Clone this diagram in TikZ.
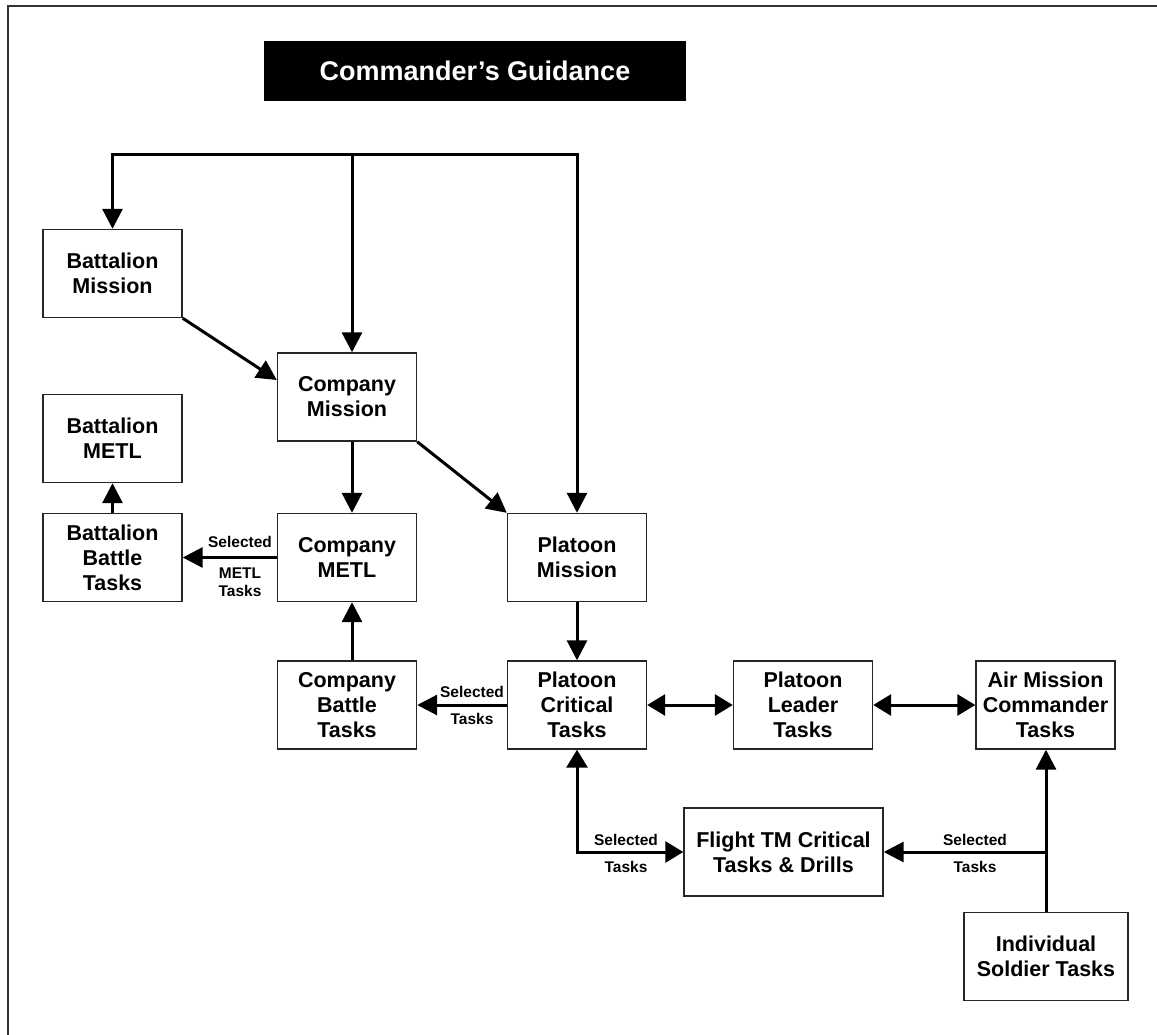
\documentclass[tikz,border=0pt]{standalone}
\usepackage{fontspec}
\setmainfont{Liberation Sans}
\usetikzlibrary{arrows.meta}
\begin{document}
\begin{tikzpicture}[x=1pt,y=-1pt,
  box/.style={draw=black!85,line width=1.4pt,fill=white,align=center,
    minimum width=139pt,minimum height=88pt,inner sep=1pt,
    font=\bfseries\fontsize{21.5}{25}\selectfont},
  link/.style={line width=3pt,draw=black},
  arr/.style={link,-{Triangle[length=20pt,width=20pt]}},
  darr/.style={link,{Triangle[length=18pt,width=21pt]}-{Triangle[length=18pt,width=21pt]}},
  lbl/.style={font=\bfseries\fontsize{15.5}{17}\selectfont,inner sep=0pt}]
\useasboundingbox (0,0) rectangle (1157,1034);
% outer frame
\draw[black!80,line width=2.4pt] (8,1040) -- (8,6) -- (1165,6);

% title banner
\node[fill=black,text=white,minimum width=422pt,minimum height=60pt,inner sep=0pt,
  font=\bfseries\fontsize{27}{30}\selectfont] (title) at (475,71) {Commander’s Guidance};

% task boxes
\node[box] (bm)    at (112.5,273.5) {Battalion\\Mission};
\node[box] (cm)    at (347,397)     {Company\\Mission};
\node[box] (bmetl) at (112.5,438.5) {Battalion\\METL};
\node[box] (bbt)   at (112.5,557.5) {Battalion\\Battle\\Tasks};
\node[box] (cmetl) at (347,557.5)   {Company\\METL};
\node[box] (pm)    at (577,557.5)   {Platoon\\Mission};
\node[box] (cbt)   at (347,705)     {Company\\Battle\\Tasks};
\node[box] (pct)   at (577,705)     {Platoon\\Critical\\Tasks};
\node[box] (plt)   at (803,705)     {Platoon\\Leader\\Tasks};
\node[box] (amc)   at (1045.5,705)  {Air Mission\\Commander\\Tasks};
\node[box,minimum width=199pt] (ftm) at (783.5,852) {Flight TM Critical\\Tasks \& Drills};
\node[box,minimum width=164pt] (ist) at (1046,956.5) {Individual\\Soldier Tasks};

% guidance distribution bus
\coordinate (busL) at (112.5,154);
\coordinate (busM) at (352,154);
\coordinate (busR) at (577,154);
\draw[link,line cap=rect] (busL) -- (busR);
\draw[arr] (busL) -- (bm.north);
\draw[arr] (busM) -- (busM |- cm.north);
\draw[arr] (busR) -- (pm.north);

% mission flow
\draw[arr] (bm.south east) -- ([yshift=17pt]cm.west);
\draw[arr] (cm.south east) -- (pm.north west);
\draw[arr] ([xshift=5pt]cm.south) -- ([xshift=5pt]cmetl.north);
\draw[arr] (bbt.north) -- (bmetl.south);
\draw[arr] ([xshift=5pt]cbt.north) -- ([xshift=5pt]cmetl.south);
\draw[arr] (pm.south) -- (pct.north);

% selected tasks
\draw[arr] (cmetl.west) -- (bbt.east);
\node[lbl] (l1a) at (240,542) {Selected};
\node[lbl] (l1b) at (240,573) {METL};
\node[lbl] (l1c) at (240,591) {Tasks};

\draw[arr] (pct.west) -- (cbt.east);
\node[lbl] (l2a) at (472,692) {Selected};
\node[lbl] (l2b) at (472,719) {Tasks};

\draw[darr] (pct.east) -- (plt.west);
\draw[darr] (plt.east) -- (amc.west);

\draw[darr] (pct.south) |- (ftm.west);
\node[lbl] (l3a) at (626,840) {Selected};
\node[lbl] (l3b) at (626,867) {Tasks};

\coordinate (jn) at (ist.north |- ftm.east);
\draw[arr] (ist.north) -- (ist.north |- amc.south);
\draw[arr] (jn) -- (ftm.east);
\node[lbl] (l4a) at (975,840) {Selected};
\node[lbl] (l4b) at (975,867) {Tasks};
\end{tikzpicture}
\end{document}
